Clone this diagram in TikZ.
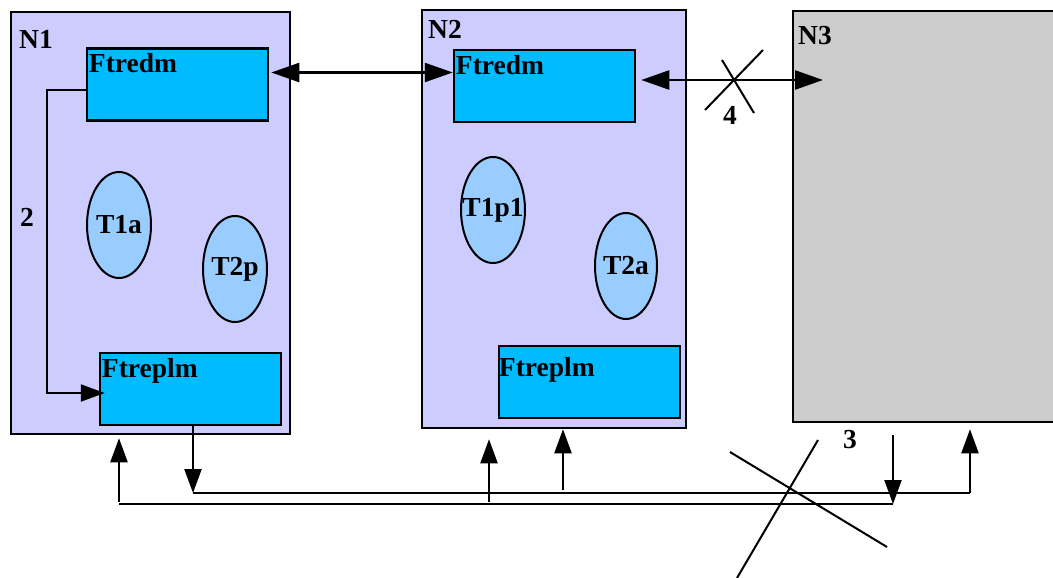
\documentclass[tikz,border=0pt]{standalone}
\usepackage{fontspec}
\setmainfont{Liberation Serif}
\usetikzlibrary{arrows.meta,shapes.geometric}

\definecolor{hostfill}{HTML}{CCCCFF}
\definecolor{ftfill}{HTML}{00BBFF}
\definecolor{taskfill}{HTML}{99CCFF}
\definecolor{downfill}{HTML}{CCCCCC}

\begin{document}
\begin{tikzpicture}[
  x=1pt, y=-1pt,
  every node/.style={font=\fontsize{27.5}{30}\selectfont\bfseries},
  hostbox/.style={draw, line width=2.5pt, inner sep=0pt},
  ftbox/.style={draw, line width=2.5pt, fill=ftfill, inner sep=0pt,
    minimum width=181pt, minimum height=72pt},
  task/.style={ellipse, draw, line width=2pt, fill=taskfill, inner sep=0pt,
    minimum width=64pt, minimum height=106pt},
  tag/.style={anchor=north west, inner sep=0pt},
  arr/.style={-{Triangle[length=24pt,width=17pt]}, line width=2.2pt},
  dbl/.style={{Triangle[length=28pt,width=19pt]}-{Triangle[length=28pt,width=19pt]},
    line width=2.4pt},
  bus/.style={line width=2.8pt},
  cross/.style={line width=2pt}
]

\useasboundingbox (0,0) rectangle (1053,578);

% ------------------------------------------------------------
% Hosts
% ------------------------------------------------------------
\node[hostbox, fill=hostfill, minimum width=279pt, minimum height=422pt]
  (N1) at (150.5,223) {};
\node[tag] (N1lbl) at (19,30) {N1};

\node[hostbox, fill=hostfill, minimum width=264pt, minimum height=418pt]
  (N2) at (554,219) {};
\node[tag] (N2lbl) at (428,20) {N2};

\node[hostbox, fill=downfill, minimum width=267pt, minimum height=411pt]
  (N3) at (926.5,216.5) {};
\node[tag] (N3lbl) at (798,26) {N3};

% ------------------------------------------------------------
% Processes inside N1 and N2
% ------------------------------------------------------------
\node[ftbox, label={[tag, xshift=3pt, yshift=-6pt]north west:Ftredm}]
  (F1r) at (177.5,84.5) {};
\node[ftbox, label={[tag, xshift=3pt, yshift=-6pt]north west:Ftreplm}]
  (F1p) at (190.5,389) {};
\node[ftbox, label={[tag, xshift=3pt, yshift=-6pt]north west:Ftredm}]
  (F2r) at (544.5,86) {};
\node[ftbox, label={[tag, xshift=1pt, yshift=-12pt]north west:Ftreplm}]
  (F2p) at (589.5,382) {};

\node[task, label=center:T1a] (T1a) at (119,225) {};
\node[task, label=center:T2p] (T2p) at (235,269) {};
\node[task, label=center:T1p1] (T1p1) at (493,210) {};
\node[task, minimum width=62pt, label=center:T2a] (T2a) at (626,266) {};

% ------------------------------------------------------------
% Top links
% ------------------------------------------------------------
\coordinate (n3in) at (823,80);

\draw[dbl, shorten <=2pt] ([yshift=12pt]F1r.east) -- ([yshift=12pt]F1r.east -| F2r.west);
\draw[dbl, shorten <=5pt] ([yshift=6pt]F2r.east) -- (n3in);

% broken link 4
\draw[cross] (705,110) -- (763,50) (722,60) -- (754,113);
\node (L4) at (730,115) {4};

% local link 2
\draw[arr, shorten >=-6pt] ([yshift=-5.5pt]F1r.west)
  -| ([xshift=-52pt,yshift=-4pt]F1p.west) -- ([yshift=-4pt]F1p.west);
\node (L2) at (27,217) {2};

% ------------------------------------------------------------
% Bottom buses
% ------------------------------------------------------------
\coordinate (busAw) at (193,493);
\coordinate (busAe) at (970,493);
\coordinate (busBw) at (119,504);
\coordinate (busBe) at (893,504);
\coordinate (tapA) at (563,490);
\coordinate (tapB) at (489,502);

\draw[arr] (F1p.south -| busAw) -- (busAw);
\draw[bus] (busAw) -- (busAe);
\draw[arr, shorten >=6pt] (busAe) -- (busAe |- N3.south);
\draw[arr] (tapA) -- (tapA |- N2.south);

\draw[bus] (busBw) -- (busBe);
\draw[arr, shorten >=3pt] ([yshift=2pt]busBw) -- (busBw |- N1.south);
\draw[arr, shorten >=10pt] (tapB) -- (tapB |- N2.south);
\draw[arr, shorten <=12pt] (busBe |- N3.south) -- (busBe);

% broken link 3
\draw[cross] (730,452) -- (887,547) (818,440) -- (737,578);
\node (L3) at (850,440) {3};

\end{tikzpicture}
\end{document}
